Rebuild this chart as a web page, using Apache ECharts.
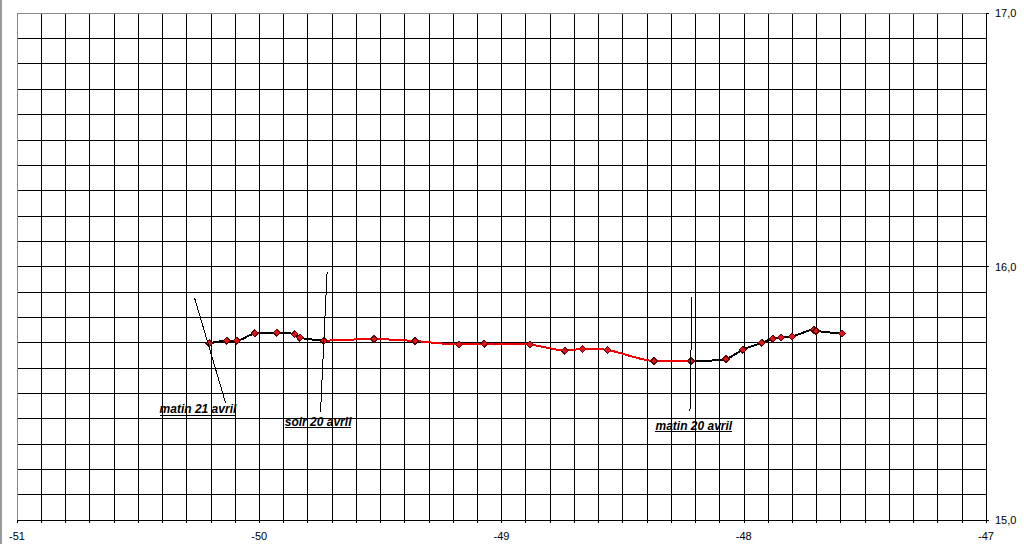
<!DOCTYPE html>
<html>
<head>
<meta charset="utf-8">
<script src="https://cdn.jsdelivr.net/npm/echarts@6/dist/echarts.min.js"></script>
<style>
html,body{margin:0;padding:0;background:#fff;}
#chart{width:1024px;height:544px;}
#chart svg path, #chart svg line, #chart svg rect, #chart svg polyline { shape-rendering: crispEdges; }
</style>
</head>
<body>
<div id="chart"></div>
<script>
// Track positions (longitude, latitude)
const lon = [-50.207,-50.134,-50.093,-50.019,-49.928,-49.854,-49.832,-49.733,-49.526,-49.357,-49.175,-49.072,-48.882,-48.739,-48.665,-48.562,-48.370,-48.218,-48.073,-48.004,-47.926,-47.881,-47.846,-47.801,-47.711,-47.702,-47.594];
const lat = [15.697,15.707,15.707,15.736,15.739,15.733,15.719,15.707,15.714,15.706,15.692,15.695,15.692,15.668,15.675,15.671,15.627,15.627,15.635,15.672,15.699,15.715,15.719,15.723,15.751,15.746,15.735];
// Segments of the track: [first index, last index]
const nightSegment = [0, 7];
const daySegment = [7, 17];
const morningSegment = [17, 26];
// Annotations
const annotText = ['matin 21 avril', 'soir 20 avril', 'matin 20 avril'];
const leaderFrom = [[-50.267, 15.876], [-49.720, 15.978], [-48.214, 15.880]];
const leaderTo = [[-50.139, 15.462], [-49.747, 15.426], [-48.222, 15.428]];
const labelAt = [[-50.253, 15.437], [-49.757, 15.388], [-48.206, 15.372]];
// Axis ranges
const xRange = [-51, -47];
const yRange = [15, 17];

const pts = lon.map((x, i) => [x, lat[i]]);
const seg = s => pts.slice(s[0], s[1] + 1);

const annotFont = 'italic bold 12px "Liberation Sans", Arial, sans-serif';
const measureCtx = document.createElement('canvas').getContext('2d');
measureCtx.font = annotFont;

const annotData = annotText.map((t, i) => [leaderFrom[i][0], leaderFrom[i][1], leaderTo[i][0], leaderTo[i][1], labelAt[i][0], labelAt[i][1]]);

const markerStyle = { color: '#e4141b', borderColor: '#5a0000', borderWidth: 1 };

function trackSeries(data, color) {
  return {
    type: 'line',
    data: data,
    smooth: 0.25,
    symbol: 'diamond',
    symbolSize: 7,
    showSymbol: true,
    itemStyle: markerStyle,
    lineStyle: { color: color, width: 2 },
    z: 3,
    animation: false
  };
}

const chart = echarts.init(document.getElementById('chart'), null, { renderer: 'svg' });
chart.setOption({
  animation: false,
  backgroundColor: '#ffffff',
  graphic: [{
    type: 'rect', left: 0, top: 0,
    shape: { width: 2, height: 544 },
    style: { fill: '#9a9a9a' }
  }],
  grid: { left: 17, right: 38, top: 13, bottom: 24, containLabel: false },
  xAxis: {
    type: 'value', min: xRange[0], max: xRange[1], interval: 1,
    axisLine: { show: true, onZero: false, lineStyle: { color: '#000', width: 1 } },
    axisTick: { show: true, length: 3, lineStyle: { color: '#000' } },
    minorTick: { show: true, splitNumber: 10, length: 3, lineStyle: { color: '#000' } },
    splitLine: { show: true, lineStyle: { color: '#000', width: 1 } },
    minorSplitLine: { show: true, lineStyle: { color: '#000', width: 1 } },
    axisLabel: { color: '#000', fontSize: 11, fontFamily: '"Liberation Sans", Arial, sans-serif', margin: 10, formatter: v => String(Math.round(v)) }
  },
  yAxis: {
    type: 'value', position: 'right', min: yRange[0], max: yRange[1], interval: 1,
    axisLine: { show: true, onZero: false, lineStyle: { color: '#000', width: 1 } },
    axisTick: { show: true, length: 3, lineStyle: { color: '#000' } },
    minorTick: { show: false, splitNumber: 10 },
    splitLine: { show: true, lineStyle: { color: '#000', width: 1 } },
    minorSplitLine: { show: true, lineStyle: { color: '#000', width: 1 } },
    axisLabel: { color: '#000', fontSize: 11, fontFamily: '"Liberation Sans", Arial, sans-serif', margin: 9, formatter: v => v.toFixed(1).replace('.', ',') }
  },
  series: [
    {
      type: 'line', data: [], silent: true, z: 2,
      markLine: {
        silent: true, symbol: 'none', animation: false,
        label: { show: false },
        lineStyle: { color: '#888888', width: 1, type: 'solid' },
        data: [{ xAxis: xRange[0] }, { yAxis: yRange[1] }]
      }
    },
    trackSeries(seg(nightSegment), '#000000'),
    trackSeries(seg(daySegment), '#f00000'),
    trackSeries(seg(morningSegment), '#000000'),
    {
      type: 'custom',
      z: 4,
      silent: true,
      animation: false,
      clip: false,
      data: annotData,
      encode: { x: [0, 2, 4], y: [1, 3, 5] },
      renderItem: function (params, api) {
        const i = params.dataIndex;
        const p1 = api.coord([api.value(0), api.value(1)]);
        const p2 = api.coord([api.value(2), api.value(3)]);
        const pt = api.coord([api.value(4), api.value(5)]);
        const txt = annotText[i];
        const w = measureCtx.measureText(txt).width;
        return {
          type: 'group',
          children: [
            { type: 'line', shape: { x1: p1[0], y1: p1[1], x2: p2[0], y2: p2[1] }, style: { stroke: '#000', lineWidth: 1 } },
            { type: 'text', style: { text: txt, x: pt[0], y: pt[1], align: 'center', verticalAlign: 'middle', font: annotFont, fill: '#000' } },
            { type: 'line', shape: { x1: pt[0] - w / 2, y1: pt[1] + 6, x2: pt[0] + w / 2, y2: pt[1] + 6 }, style: { stroke: '#000', lineWidth: 1 } }
          ]
        };
      }
    }
  ]
});
</script>
</body>
</html>
